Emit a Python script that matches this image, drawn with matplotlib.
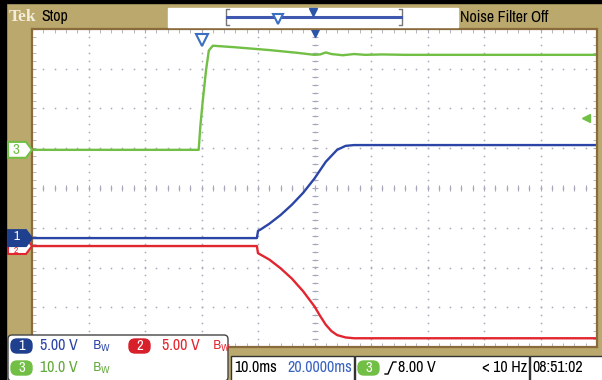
import numpy as np
import matplotlib.pyplot as plt
from matplotlib import font_manager, transforms
from matplotlib.patches import FancyBboxPatch, Rectangle, Polygon
from matplotlib.ticker import MultipleLocator

# time (ms, relative to trigger) and volts for each channel
t_ch1 = [-30, 9.8, 10.0, 10.5, 12, 14, 16, 18, 20, 22, 24, 25.5, 27, 30, 70]
v_ch1 = [0, 0, 0.9, 1.1, 1.8, 2.9, 4.2, 5.7, 7.5, 9.6, 11.1, 11.6, 11.7, 11.7, 11.7]

t_ch2 = [-30, 9.8, 10.0, 10.5, 12, 14, 16, 18, 20, 21, 22, 23, 24, 25.5, 27, 30, 70]
v_ch2 = [0, 0, -0.9, -1.1, -1.7, -2.8, -4.1, -5.7, -7.6, -8.8, -9.9, -10.7, -11.2, -11.5, -11.6, -11.6, -11.6]

t_ch3 = [-30, -0.5, -0.2, 0.2, 0.8, 1.3, 2.0, 6, 12, 17, 20, 21, 22, 23, 25, 27, 29, 32, 36, 45, 70]
v_ch3 = [0, 0, 6, 12, 20, 25, 26.2, 25.8, 25.1, 24.4, 23.9, 24.0, 24.5, 24.1, 23.8, 24.1, 23.9, 24.0, 23.9, 23.9, 23.9]

volts_div = [5.0, 5.0, 10.0]        # ch1, ch2, ch3
offset_div = [-1.26, -1.46, 0.96]   # ground marker position in divisions
time_div = 10.0                     # ms/div
h_pos = 20.0                        # ms at screen centre
trig_level = 8.0                    # V on ch3

blue = '#2b45a6'
red = '#e2262f'
green = '#72bf45'
tan = '#bba86c'
frame = '#8a6b3c'

# narrow sans if we have one
narrow, stretch, fs = 'Liberation Sans', 'normal', 9
for f in font_manager.fontManager.ttflist:
    if 'Narrow' in f.name or 'Condensed' in f.name:
        narrow, stretch, fs = f.name, 'normal', 11.5
        break
else:
    for f in font_manager.fontManager.ttflist:
        if f.name == 'DejaVu Sans' and f.stretch == 'condensed':
            narrow, stretch, fs = 'DejaVu Sans', 'condensed', 9.5
            break
TXT = dict(family=narrow, fontstretch=stretch, fontsize=fs, va='center')

W, H = 602, 380
fig = plt.figure(figsize=(W / 100, H / 100), dpi=100)
fig.patch.set_facecolor(tan)

# graticule: x 32..597, y 29..347 px
gl, gt, gr, gb = 32, 29, 597, 347
ax = fig.add_axes([gl / W, (H - gb) / H, (gr - gl) / W, (gb - gt) / H])
ax.set_zorder(2)
ax.set_facecolor('white')
ax.set_xlim(h_pos - 5 * time_div, h_pos + 5 * time_div)
ax.set_ylim(-4, 4)
for s in ax.spines.values():
    s.set_color(frame)
    s.set_linewidth(1.6)
ax.xaxis.set_major_locator(MultipleLocator(time_div))
ax.xaxis.set_minor_locator(MultipleLocator(time_div / 5))
ax.yaxis.set_major_locator(MultipleLocator(1))
ax.yaxis.set_minor_locator(MultipleLocator(0.2))
ax.tick_params(which='both', direction='in', top=True, right=True, length=3,
               color='#a9a9bb', labelbottom=False, labelleft=False)

# dotted grid
gx = np.arange(h_pos - 4 * time_div, h_pos + 4.5 * time_div, time_div)
gy = np.arange(-3, 3.5, 1)
dots_y = np.arange(-4, 4.01, 0.2)
dots_x = np.arange(h_pos - 5 * time_div, h_pos + 5.01 * time_div, time_div / 5)
for x in gx:
    ax.plot(np.full_like(dots_y, x), dots_y, ls='none', marker='s', ms=1.1,
            color='#a8a8bc', mew=0)
for y in gy:
    ax.plot(dots_x, np.full_like(dots_x, y), ls='none', marker='s', ms=1.1,
            color='#a8a8bc', mew=0)
# centre crosshair ticks
ax.plot(np.full_like(dots_y, h_pos), dots_y, ls='none', marker='_', ms=4,
        color='#a8a8bc', mew=0.8)
ax.plot(dots_x, np.zeros_like(dots_x), ls='none', marker='|', ms=4,
        color='#a8a8bc', mew=0.8)

# traces
ax.plot(t_ch3, offset_div[2] + np.array(v_ch3) / volts_div[2], color=green, lw=1.7)
ax.plot(t_ch2, offset_div[1] + np.array(v_ch2) / volts_div[1], color=red, lw=1.7)
ax.plot(t_ch1, offset_div[0] + np.array(v_ch1) / volts_div[0], color=blue, lw=1.7)

# trigger position / expansion point / trigger level markers
ax.plot(0, 3.72, marker='v', ms=8, mfc='white', mec='#3b6fc0', mew=1.5, clip_on=False)
ax.plot(h_pos, 3.93, marker='v', ms=7, color='#2b55a8', clip_on=False)
ax.plot(h_pos + 4.8 * time_div, offset_div[2] + trig_level / volts_div[2],
        marker='<', ms=6, color=green)

# overlay in pixel coordinates
ov = fig.add_axes([0, 0, 1, 1])
ov.set_zorder(3)
ov.set_xlim(0, W)
ov.set_ylim(H, 0)
ov.axis('off')
ov.patch.set_alpha(0)

ov.add_patch(Rectangle((0, 0), W, 3, color='black'))
ov.add_patch(Rectangle((0, 0), 6, H, color='black'))

# top bar
ov.text(9, 17, 'Tek', fontsize=12.5, fontweight='bold', family='Liberation Serif',
        color='#f3eedc', va='center')
ov.text(41, 17, 'Stop', **TXT)
ov.add_patch(Rectangle((168, 8), 290, 19, color='white'))
ov.plot([229, 226, 226, 229], [9, 9, 25, 25], color='#777777', lw=1)
ov.plot([399, 402, 402, 399], [9, 9, 25, 25], color='#777777', lw=1)
ov.plot([227, 401], [17, 17], color='#4058b0', lw=2.2)
ov.plot(278, 19, marker='v', ms=7, mfc='white', mec='#3b6fc0', mew=1.5)
ov.plot(313, 12, marker='v', ms=6, color='#2b55a8')
ov.text(460, 17, 'Noise Filter Off', **TXT)

# ground markers on the left
bt = transforms.blended_transform_factory(ov.transData, ax.transData)
def ch_marker(num, off, fc, ec, tc, dy=0.0, size=10):
    h = 0.2
    pts = [(8, off - h), (26, off - h), (32, off), (26, off + h), (8, off + h)]
    ov.add_patch(Polygon(pts, closed=True, fc=fc, ec=ec, lw=1.5, transform=bt,
                         clip_on=False))
    ov.text(16, off + dy, str(num), transform=bt, fontsize=size, family=narrow,
            fontstretch=stretch, color=tc, ha='center', va='center')

ch_marker(3, offset_div[2], 'white', green, green, size=11)
ch_marker(2, offset_div[1], 'white', red, red, dy=-0.12, size=7)
ch_marker(1, offset_div[0], '#1f3f8f', '#1f3f8f', 'white', dy=0.03, size=9.5)

# bottom-left info box
ov.add_patch(FancyBboxPatch((8, 335), 220, 46, boxstyle='round,pad=0,rounding_size=4',
                            fc='white', ec='#444444', lw=1))

def badge(x, y, num, fc):
    ov.add_patch(FancyBboxPatch((x, y - 7), 21, 14, boxstyle='round,pad=0,rounding_size=6',
                                fc=fc, ec=fc))
    ov.text(x + 10.5, y, str(num), family=narrow, fontstretch=stretch, fontsize=fs - 1,
            color='white', ha='center', va='center')

bw = r'$\mathregular{B_W}$'
badge(11, 346, 1, '#1f3f8f')
ov.text(40, 346, '%.2f V' % volts_div[0], color=blue, **TXT)
ov.text(92, 346, bw, fontsize=9, color=blue, va='center')
badge(129, 346, 2, '#d8202a')
ov.text(162, 346, '%.2f V' % volts_div[1], color=red, **TXT)
ov.text(212, 346, bw, fontsize=9, color=red, va='center')
badge(11, 368, 3, green)
ov.text(40, 368, '%.1f V' % volts_div[2], color='#62a83a', **TXT)
ov.text(92, 368, bw, fontsize=9, color='#62a83a', va='center')

# bottom-right status boxes
for x0, x1 in [(231, 354), (355, 529), (530, 603)]:
    ov.add_patch(Rectangle((x0, 356), x1 - x0, 26, fc='white', ec='#333333', lw=1))
ov.text(234, 368, '%.1fms' % time_div, color='black', **TXT)
ov.text(352, 368, '%.4fms' % h_pos, color='#3a64c0', ha='right', **TXT)
badge(358, 368, 3, green)
ov.plot([385, 388, 393, 396], [374, 374, 362, 362], color='black', lw=1)
ov.text(398, 368, '%.2f V' % trig_level, color='black', **TXT)
ov.text(527, 368, '< 10 Hz', color='black', ha='right', **TXT)
ov.text(532, 368, '08:51:02', color='black', **TXT)

fig.savefig('out.png', dpi=100, facecolor=fig.get_facecolor())
